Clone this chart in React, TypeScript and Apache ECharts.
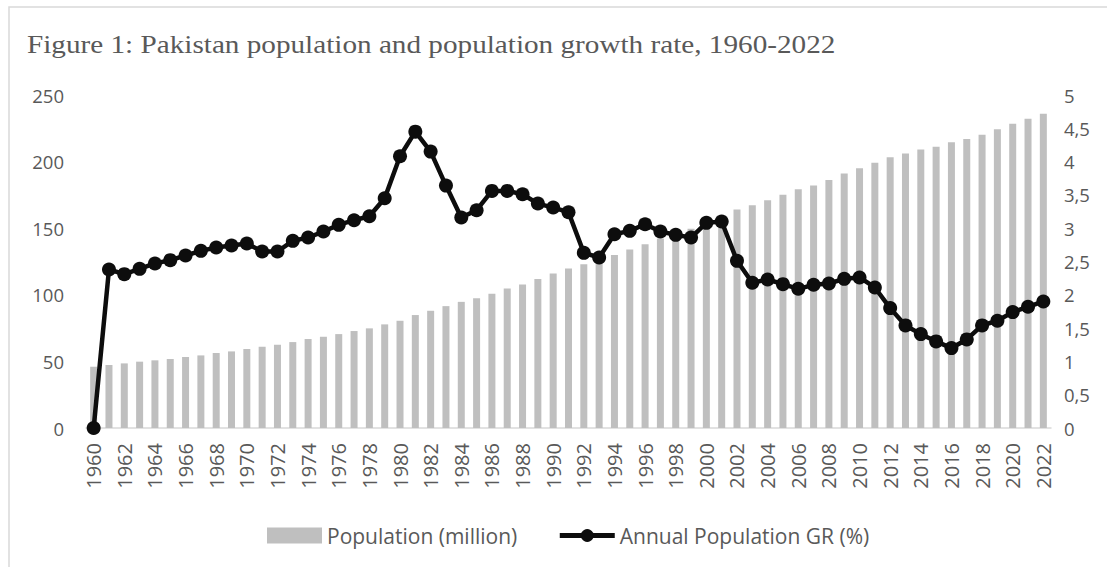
import React, { useEffect, useRef } from "react";
import * as echarts from "echarts";

const years: string[] = [
  "1960", "1961", "1962", "1963", "1964", "1965", "1966", "1967", "1968", "1969",
  "1970", "1971", "1972", "1973", "1974", "1975", "1976", "1977", "1978", "1979",
  "1980", "1981", "1982", "1983", "1984", "1985", "1986", "1987", "1988", "1989",
  "1990", "1991", "1992", "1993", "1994", "1995", "1996", "1997", "1998", "1999",
  "2000", "2001", "2002", "2003", "2004", "2005", "2006", "2007", "2008", "2009",
  "2010", "2011", "2012", "2013", "2014", "2015", "2016", "2017", "2018", "2019",
  "2020", "2021", "2022",
];

// Population, million
const population: number[] = [
  46.0, 47.3, 48.5, 49.8, 50.8, 51.8, 53.3, 54.5, 56.3, 57.5,
  59.3, 61.0, 62.5, 64.5, 66.8, 68.5, 70.5, 72.8, 74.8, 77.8,
  80.5, 84.8, 88.0, 91.5, 94.7, 97.5, 100.7, 104.8, 107.8, 111.8,
  116.0, 119.8, 123.0, 126.3, 129.8, 134.0, 138.0, 142.2, 146.0, 149.5,
  153.5, 158.0, 164.0, 167.3, 171.0, 175.2, 179.2, 182.0, 186.2, 191.0,
  195.0, 199.2, 203.2, 206.0, 209.0, 211.2, 214.5, 217.0, 220.2, 224.2,
  228.5, 232.2, 236.0,
];

// Annual population growth rate, %
const growthRate: number[] = [
  0, 2.38, 2.31, 2.39, 2.47, 2.52, 2.59, 2.66, 2.71, 2.74,
  2.77, 2.65, 2.65, 2.81, 2.86, 2.95, 3.05, 3.12, 3.18, 3.45,
  4.08, 4.45, 4.15, 3.64, 3.16, 3.27, 3.56, 3.56, 3.51, 3.37,
  3.31, 3.24, 2.63, 2.56, 2.91, 2.96, 3.06, 2.95, 2.9, 2.86,
  3.08, 3.1, 2.51, 2.18, 2.23, 2.16, 2.09, 2.15, 2.17, 2.24,
  2.26, 2.11, 1.8, 1.54, 1.41, 1.3, 1.2, 1.33, 1.54, 1.61,
  1.74, 1.82, 1.9,
];

const titleText = "Figure 1: Pakistan population and population growth rate, 1960-2022";
const popName = "Population (million)";
const rateName = "Annual Population GR (%)";

const sans = "'Open Sans', sans-serif";
const labelColor = "#595959";
const lineColor = "#0d0d0d";

export default function App() {
  const ref = useRef<HTMLDivElement>(null);

  useEffect(() => {
    if (!ref.current) return;
    const chart = echarts.init(ref.current, null, { renderer: "svg" });
    chart.setOption({
      animation: false,
      backgroundColor: "#ffffff",
      graphic: [
        {
          type: "rect",
          shape: { x: 9, y: 7, width: 1300, height: 800 },
          style: { fill: "none", stroke: "#d9d9d9", lineWidth: 1.5 },
          silent: true,
        },
        {
          type: "text",
          x: 27,
          y: 44.5,
          scaleX: 1.145,
          style: {
            text: titleText,
            fill: labelColor,
            font: "25.5px 'Liberation Serif', serif",
            verticalAlign: "middle",
          },
          silent: true,
        },
      ],
      grid: { left: 86, right: 56, top: 95, bottom: 139, containLabel: false },
      legend: {
        left: 267,
        top: 525,
        padding: 0,
        itemWidth: 55,
        itemHeight: 16,
        itemGap: 40,
        textStyle: { color: labelColor, fontFamily: sans, fontSize: 21 },
        data: [
          { name: popName, icon: "rect" },
          { name: rateName, lineStyle: { color: lineColor, width: 5 } },
        ],
      },
      xAxis: {
        type: "category",
        data: years,
        boundaryGap: true,
        axisLine: { lineStyle: { color: "#d9d9d9", width: 1.5 } },
        axisTick: { show: false },
        axisLabel: {
          interval: 1,
          rotate: 90,
          margin: 15,
          color: labelColor,
          fontFamily: sans,
          fontSize: 20,
        },
      },
      yAxis: [
        {
          type: "value",
          min: 0,
          max: 250,
          interval: 50,
          splitLine: { show: false },
          axisLine: { show: false },
          axisTick: { show: false },
          axisLabel: { margin: 22, color: labelColor, fontFamily: sans, fontSize: 18.5 },
        },
        {
          type: "value",
          min: 0,
          max: 5,
          interval: 0.5,
          position: "right",
          splitLine: { show: false },
          axisLine: { show: false },
          axisTick: { show: false },
          axisLabel: {
            margin: 13,
            color: labelColor,
            fontFamily: sans,
            fontSize: 18.5,
            formatter: (v: number) => String(v).replace(".", ","),
          },
        },
      ],
      series: [
        {
          name: popName,
          type: "bar",
          data: population,
          yAxisIndex: 0,
          barWidth: 7,
          itemStyle: { color: "#bfbfbf" },
        },
        {
          name: rateName,
          type: "line",
          data: growthRate,
          yAxisIndex: 1,
          symbol: "circle",
          symbolSize: 14,
          showAllSymbol: true,
          lineStyle: { color: lineColor, width: 4.5 },
          itemStyle: { color: lineColor },
        },
      ],
    });
    return () => chart.dispose();
  }, []);

  return (
    <div
      ref={ref}
      style={{ position: "fixed", left: 0, top: 0, width: 1107, height: 567 }}
    />
  );
}
